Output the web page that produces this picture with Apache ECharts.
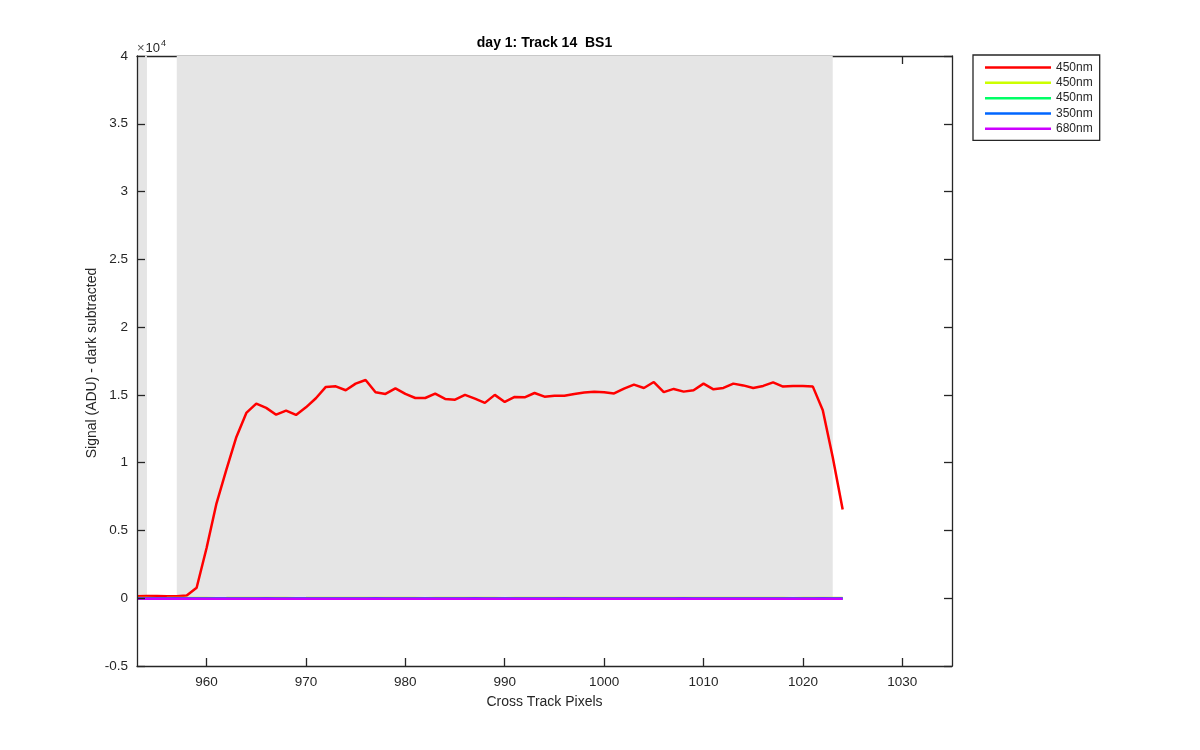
<!DOCTYPE html>
<html>
<head>
<meta charset="utf-8">
<script src="https://cdn.jsdelivr.net/npm/echarts@6/dist/echarts.min.js"></script>
<style>html,body{margin:0;padding:0;background:#fff;}#c{width:1200px;height:750px;}</style>
</head>
<body>
<div id="c"></div>
<script>
const pixels = [953,954,955,956,957,958,959,960,961,962,963,964,965,966,967,968,969,970,971,972,973,974,975,976,977,978,979,980,981,982,983,984,985,986,987,988,989,990,991,992,993,994,995,996,997,998,999,1000,1001,1002,1003,1004,1005,1006,1007,1008,1009,1010,1011,1012,1013,1014,1015,1016,1017,1018,1019,1020,1021,1022,1023,1024];
const red450 = [150,160,170,150,150,200,770,3700,7000,9500,11900,13670,14350,14040,13540,13840,13520,14080,14750,15590,15630,15340,15830,16100,15190,15070,15480,15070,14770,14770,15090,14700,14650,15000,14720,14410,15000,14480,14850,14820,15140,14870,14940,14940,15070,15170,15240,15190,15110,15460,15760,15510,15950,15200,15440,15240,15340,15830,15410,15510,15830,15700,15510,15660,15920,15610,15660,15660,15610,13860,10400,6540];
const yellow450 = [10,15,5,12,20,8,14,18,6,10,22,16,9,12,20,15,7,11,18,13,9,16,21,10,14,8,12,19,15,6,11,17,13,9,20,14,10,7,16,12,18,9,13,15,11,8,19,14,10,12,17,9,15,11,13,20,8,12,16,10,14,18,9,11,15,13,7,12,17,10,14,9];
const green450 = [-5,0,4,-2,6,1,-3,5,2,-1,7,3,-4,0,5,2,-2,6,1,-3,4,0,5,-1,3,-2,6,1,-4,2,5,0,-3,4,1,-1,6,2,-2,3,0,5,-3,1,4,-1,2,6,0,-2,3,5,-1,1,4,-3,2,0,6,-2,3,1,-1,5,0,2,-3,4,1,-2,3,0];
const blue350 = [-20,-15,-25,-18,-10,-22,-16,-12,-24,-19,-14,-21,-17,-11,-23,-20,-13,-18,-25,-15,-12,-22,-19,-16,-10,-24,-18,-14,-21,-17,-12,-23,-15,-19,-11,-22,-16,-20,-13,-24,-18,-14,-21,-10,-17,-23,-15,-19,-12,-22,-16,-20,-14,-25,-18,-11,-21,-15,-19,-13,-23,-17,-12,-20,-16,-24,-14,-18,-22,-11,-19,-15];
const purple680 = [-40,-35,-45,-38,-30,-42,-36,-32,-44,-39,-34,-41,-37,-31,-43,-40,-33,-38,-45,-35,-32,-42,-39,-36,-30,-44,-38,-34,-41,-37,-32,-43,-35,-39,-31,-42,-36,-40,-33,-44,-38,-34,-41,-30,-37,-43,-35,-39,-32,-42,-36,-40,-34,-45,-38,-31,-41,-35,-39,-33,-43,-37,-32,-40,-36,-44,-34,-38,-42,-31,-39,-35];
const seriesNames = ['450nm', '450nm ', '450nm  ', '350nm', '680nm'];
const seriesColors = ['#FF0000', '#CCFF00', '#00FF66', '#0066FF', '#CC00FF'];
const xTicks = [960,970,980,990,1000,1010,1020,1030];
const shadeRanges = [[953,954],[957,1023]];
const shadeBottom = 0, shadeTop = 40000;

const allValues = [red450, yellow450, green450, blue350, purple680];
const textColor = '#262626';
const FONT = 'Liberation Sans, Arial, Helvetica, sans-serif';

const chart = echarts.init(document.getElementById('c'));

const lineSeries = allValues.map((vals, i) => ({
  name: seriesNames[i],
  type: 'line',
  data: pixels.map((p, j) => [p, vals[j]]),
  showSymbol: false,
  symbol: 'none',
  lineStyle: { color: seriesColors[i], width: 2.5 },
  itemStyle: { color: seriesColors[i] },
  z: 3,
  animation: false
}));

const shadeSeries = {
  name: 'shade',
  type: 'line',
  data: [],
  z: 1,
  silent: true,
  animation: false,
  markArea: {
    silent: true,
    itemStyle: { color: '#E5E5E5' },
    data: shadeRanges.map(r => [{ xAxis: r[0], yAxis: shadeBottom }, { xAxis: r[1], yAxis: shadeTop }])
  }
};

const axisCommonX = {
  type: 'value', min: 953, max: 1035,
  axisLine: { show: true, onZero: false, lineStyle: { color: textColor, width: 1.3 } },
  axisTick: { show: true, inside: true, length: 8, customValues: xTicks, lineStyle: { color: textColor, width: 1.3 } },
  splitLine: { show: false }
};
const axisCommonY = {
  type: 'value', min: -5000, max: 40000, interval: 5000,
  axisLine: { show: true, onZero: false, lineStyle: { color: textColor, width: 1.3 } },
  axisTick: { show: true, inside: true, length: 8, lineStyle: { color: textColor, width: 1.3 } },
  splitLine: { show: false }
};

chart.setOption({
  backgroundColor: '#ffffff',
  animation: false,
  grid: { left: 137, top: 56, width: 815, height: 610, containLabel: false },
  xAxis: [
    Object.assign({}, axisCommonX, {
      position: 'bottom', z: 5,
      axisLabel: { show: true, customValues: xTicks, fontSize: 13.5, color: textColor, margin: 9, fontFamily: FONT, formatter: v => String(v) }
    }),
    Object.assign({}, axisCommonX, { position: 'top', z: 0, axisLabel: { show: false } })
  ],
  yAxis: [
    Object.assign({}, axisCommonY, {
      position: 'left', z: 5,
      axisLabel: { show: true, fontSize: 13.5, color: textColor, margin: 9, fontFamily: FONT,
        formatter: v => String(Math.round(v / 1000) / 10) }
    }),
    Object.assign({}, axisCommonY, { position: 'right', z: 5, axisLabel: { show: false } })
  ],
  legend: {
    data: seriesNames,
    orient: 'vertical',
    left: 973, top: 55,
    padding: [5, 7, 4, 12],
    itemWidth: 66, itemHeight: 2.5, itemGap: 0.33,
    icon: 'rect',
    borderColor: textColor, borderWidth: 1.3,
    backgroundColor: '#ffffff',
    formatter: n => n.trim(),
    textStyle: { fontSize: 12, color: textColor, lineHeight: 15, padding: [0, 0, 0, 0], fontFamily: FONT },
    itemStyle: { borderWidth: 0 },
    selectedMode: false
  },
  graphic: [
    { type: 'text', x: 544.5, y: 43, style: { text: 'day 1: Track 14  BS1', font: 'bold 14px ' + FONT, fill: '#000', align: 'center', verticalAlign: 'middle' } },
    { type: 'text', x: 544.5, y: 702, style: { text: 'Cross Track Pixels', font: '14px ' + FONT, fill: textColor, align: 'center', verticalAlign: 'middle' } },
    { type: 'text', x: 92, y: 363, rotation: Math.PI / 2, style: { text: 'Signal (ADU) - dark subtracted', font: '14px ' + FONT, fill: textColor, align: 'center', verticalAlign: 'middle' } },
    { type: 'text', x: 137, y: 55, style: { text: '{a|×}{c|10}{b|4}', verticalAlign: 'bottom', align: 'left', fill: textColor,
      rich: { a: { fontSize: 13, fontFamily: FONT, fill: '#555', verticalAlign: 'bottom', padding: [0, 1, 0, 0] },
              c: { fontSize: 13, fontFamily: FONT, fill: textColor, verticalAlign: 'bottom' },
              b: { fontSize: 9, fontFamily: FONT, fill: textColor, verticalAlign: 'top', padding: [0, 0, 7, 1] } } } }
  ],
  series: [shadeSeries].concat(lineSeries)
});
</script>
</body>
</html>
